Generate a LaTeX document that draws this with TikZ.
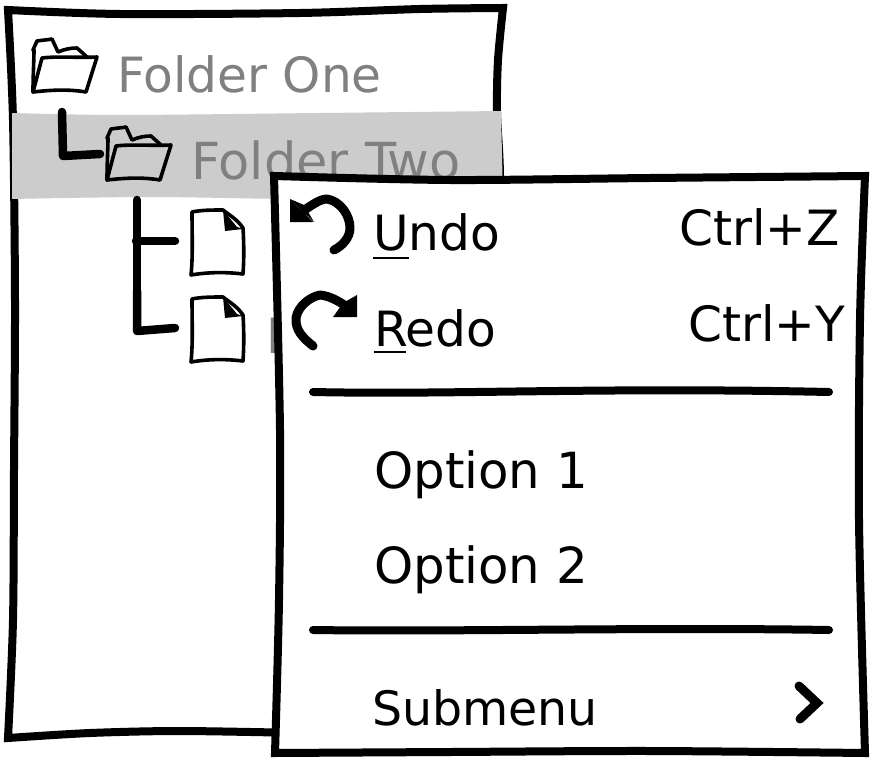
\documentclass[tikz,border=0pt]{standalone}
\usepackage{fontspec}
\setmainfont{DejaVu Sans}
\definecolor{labelgrey}{HTML}{808080}
\definecolor{bandgrey}{HTML}{CCCCCC}
\tikzset{
  frameline/.style={draw=black,line width=8pt,line join=miter,fill=white},
  treeline/.style={draw=black,line width=8.5pt,line cap=round,line join=round},
  sepline/.style={draw=black,line width=8pt,line cap=round},
  iconline/.style={draw=black,line width=3.6pt,line join=round,line cap=round},
  uline/.style={draw=black,line width=2pt},
  greylabel/.style={anchor=base west,inner sep=0pt,text=labelgrey,font=\fontsize{48.6}{49}\selectfont},
  blacklabel/.style={anchor=base west,inner sep=0pt,text=black,font=\fontsize{48.6}{49}\selectfont},
  pics/foldericon/.style={code={
    \draw[iconline] (0,52) .. controls (0,35) and (1,20) .. (1,10) -- (0,10) -- (4,1) .. controls (10,0) and (14,0) .. (19,-1) -- (25,12) .. controls (32,9) and (38,8) .. (44,8) -- (54,17);
    \draw[iconline] (9,18) .. controls (25,16) and (45,18) .. (64,17) -- (53,52) .. controls (35,49) and (18,50) .. (0,52) -- cycle;
  }},
  pics/fileicon/.style={code={
    \draw[iconline] (1,0) .. controls (10,-2) and (22,-2) .. (32,-2) .. controls (38,3) and (46,7) .. (52,16) .. controls (53,32) and (53,48) .. (52,62) .. controls (35,60) and (18,60) .. (0,63) .. controls (2,45) and (1,20) .. (1,0) -- cycle;
    \fill[black] (32,-2) -- (34,19) -- (52,17) -- (46,15) -- (37,4) -- cycle;
  }}
}
\begin{document}
\begin{tikzpicture}[x=1pt,y=-1pt]
\useasboundingbox (0,0) rectangle (875,762);
% tree panel
\path[frameline] plot[smooth,tension=.5] coordinates {(8,10) (120,14) (300,13) (420,9) (503,8)}
  -- plot[smooth,tension=.5] coordinates {(503,8) (498,60) (497,112) (500,175) (500,300)}
  -- (300,733)
  -- plot[smooth,tension=.5] coordinates {(300,733) (180,731) (90,733) (8,738)}
  -- plot[smooth,tension=.5] coordinates {(8,738) (13,620) (14,470) (15,300) (13,120) (8,10)} -- cycle;
\fill[bandgrey] plot[smooth,tension=.5] coordinates {(12,113) (120,115) (320,113) (501,111)}
  -- (503,198) -- plot[smooth,tension=.5] coordinates {(503,198) (300,199) (150,197) (12,199)} -- cycle;
\node[greylabel] (folderone) at (117,93) {Folder One};
\node[greylabel,font=\fontsize{51}{51}\selectfont] (foldertwo) at (191,180) {Folder Two};
\node[greylabel] (fileb) at (266,353) {F};
\pic at (33,40) {foldericon};
\pic at (107,128) {foldericon};
\pic at (191,212) {fileicon};
\pic at (191,299) {fileicon};
% tree connectors
\coordinate (ta) at (62,112);
\coordinate (tb) at (63,156);
\coordinate (tc) at (100,154);
\coordinate (td) at (137,200);
\coordinate (te) at (137,291);
\coordinate (tf) at (136,241);
\coordinate (tg) at (175,241);
\coordinate (th) at (137,331);
\coordinate (ti) at (175,328);
\draw[treeline] (ta) -- (tb) -- (tc);
\draw[treeline] (td) -- (te);
\draw[treeline] (tf) -- (tg);
\draw[treeline] (te) -- (th) -- (ti);
% menu
\path[frameline] plot[smooth,tension=.5] coordinates {(274,176) (450,180) (650,178) (865,176)}
  -- plot[smooth,tension=.5] coordinates {(865,176) (860,320) (859,520) (865,753)}
  -- plot[smooth,tension=.5] coordinates {(865,753) (650,751) (450,752) (275,753)}
  -- plot[smooth,tension=.5] coordinates {(275,753) (279,600) (280,430) (274,176)} -- cycle;
\node[blacklabel] (undo) at (373,250) {Undo};
\node[blacklabel] (redo) at (374,346) {Redo};
\node[blacklabel] (ctrlz) at (679,245) {Ctrl+Z};
\node[blacklabel] (ctrly) at (688,341) {Ctrl+Y};
\node[blacklabel,font=\fontsize{49.8}{50}\selectfont] (opta) at (374,488) {Option 1};
\node[blacklabel,font=\fontsize{49.8}{50}\selectfont] (optb) at (374,583) {Option 2};
\node[blacklabel,font=\fontsize{47.4}{48}\selectfont] (submenu) at (372,725) {Submenu};
\draw[uline] (373,258) -- (409,258);
\draw[uline] (374,352) -- (406,352);
\coordinate (sa) at (313,392);
\coordinate (sb) at (829,392);
\coordinate (sc) at (313,630);
\coordinate (sd) at (829,630);
\draw[sepline] (sa) .. controls (450,395) and (600,387) .. (sb);
\draw[sepline] (sc) .. controls (450,632) and (650,627) .. (sd);
% chevron
\draw[treeline,line width=9pt,line join=miter] (799,686) -- (817,703) -- (800,719);
% undo
\fill[black] (290,199) -- (313,222) -- (290,222) -- cycle;
\fill[black] (290,199) -- (304,205) -- (314,222) -- cycle;
\draw[treeline,line width=9pt] (303,211) .. controls (312,205) and (320,199) .. (327,199) .. controls (340,201) and (350,215) .. (350,228) .. controls (350,238) and (342,246) .. (334,250);
% redo
\fill[black] (357,295) -- (357,317) -- (333,317) -- cycle;
\fill[black] (357,295) -- (343,303) -- (333,317) -- cycle;
\draw[treeline,line width=9pt] (313,346) .. controls (303,338) and (295,330) .. (296,318) .. controls (298,306) and (310,297) .. (320,295) .. controls (330,296) and (338,301) .. (346,306);
\end{tikzpicture}
\end{document}
